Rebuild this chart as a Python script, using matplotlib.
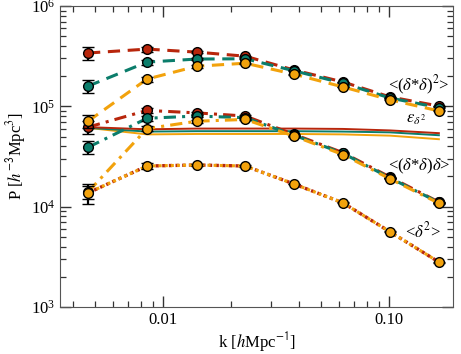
import matplotlib
matplotlib.use("Agg")
import matplotlib.pyplot as plt
from matplotlib.ticker import FixedLocator, FixedFormatter, LogLocator, NullFormatter

plt.rcParams["font.family"] = ["Liberation Serif", "DejaVu Serif"]
plt.rcParams["mathtext.fontset"] = "stix"

# k bins [h/Mpc]
k = [0.00466, 0.0085, 0.0141, 0.0231, 0.038, 0.0625, 0.101, 0.166]

# <(d*d)^2>
sq_red = [340000, 372000, 347000, 316000, 230000, 175000, 124000, 100700]
sq_teal = [159000, 276000, 296000, 298000, 226000, 170000, 121000, 97000]
sq_orange = [71000, 187000, 251000, 269000, 209000, 156000, 116000, 90000]

# <(d*d)d>
cr_red = [62000, 91000, 86000, 80000, 52500, 34500, 19700, 11100]
cr_teal = [39000, 76000, 80000, 77000, 51500, 34000, 19300, 11000]
cr_orange = [14000, 60000, 71000, 74000, 50500, 33000, 18900, 10800]

# <d^2>
d2 = [13700, 25400, 26000, 25400, 16800, 10900, 5600, 2800]

# epsilon_{d^2}
eps_red = [62000, 59000, 60000, 60000, 60000, 59500, 57500, 54000]
eps_teal = [61000, 56000, 56500, 56500, 56500, 56000, 55000, 51500]
eps_orange = [61000, 52500, 53000, 53000, 53000, 52500, 51000, 47000]

# relative errors per k bin
rel_err = [0.15, 0.06, 0.03, 0.015, 0.01, 0.01, 0.01, 0.01]
rel_err_d2 = [0.22, 0.06, 0.03, 0.015, 0.01, 0.01, 0.01, 0.01]

red = "#b8260c"
teal = "#0b7d6b"
orange = "#f2a20c"

fig = plt.figure(figsize=(4.61, 3.54), dpi=100)
ax = fig.add_axes([0.130, 0.133, 0.853, 0.850])


def series(vals, color, ls, errs, z):
    ax.plot(k, vals, color=color, linestyle=ls, linewidth=2.2, zorder=z)
    ax.errorbar(
        k, vals, yerr=[v * e for v, e in zip(vals, errs)],
        fmt="o", color=color, markersize=7, markeredgecolor="black",
        markeredgewidth=1.0, ecolor="black", elinewidth=1.6, capsize=4,
        capthick=1.6, zorder=z + 0.5,
    )


dash = (0, (4, 2.5))
dashdot = (0, (4, 2, 1, 2))
dot = (0, (1, 1))

for vals, color, z in [(eps_orange, orange, 2), (eps_teal, teal, 2.1), (eps_red, red, 2.2)]:
    ax.plot(k, vals, color=color, linewidth=1.4, zorder=z)

series(sq_red, red, dash, rel_err, 3)
series(sq_teal, teal, dash, rel_err, 4)
series(sq_orange, orange, dash, rel_err, 5)

series(cr_red, red, dashdot, rel_err, 3)
series(cr_teal, teal, dashdot, rel_err, 4)
series(cr_orange, orange, dashdot, rel_err, 5)

ax.plot(k, d2, color=red, linestyle=dot, linewidth=2.4, zorder=3)
series(d2, orange, (1, (1, 1)), rel_err_d2, 5)

ax.set_xscale("log")
ax.set_yscale("log")
ax.set_xlim(0.0035, 0.192)
ax.set_ylim(1e3, 1e6)

ax.xaxis.set_major_locator(FixedLocator([0.01, 0.1]))
ax.xaxis.set_major_formatter(FixedFormatter(["0.01", "0.10"]))
ax.xaxis.set_minor_locator(LogLocator(base=10, subs=range(2, 10)))
ax.xaxis.set_minor_formatter(NullFormatter())
ax.yaxis.set_minor_locator(LogLocator(base=10, subs=range(2, 10)))
ax.yaxis.set_minor_formatter(NullFormatter())

ax.tick_params(which="both", direction="in", top=True, right=True,
               labelsize=12, colors="#333333", labelcolor="black")
ax.tick_params(which="major", length=8, width=1.0)
ax.tick_params(which="minor", length=4, width=0.9)
for sp in ax.spines.values():
    sp.set_color("#555555")

ax.set_xlabel(r"k [$h$Mpc$^{\mathsf{-1}}$]", fontsize=12, labelpad=2)
ax.set_ylabel(r"P [$h^{\mathsf{-3}}$Mpc$^{3}$]", fontsize=12, labelpad=2)

ax.text(0.186, 1.62e5, r"<($\delta$*$\delta$)$^2$>", fontsize=12, ha="right", va="center")
ax.text(0.132, 7.5e4, r"$\epsilon_{\delta^2}$", fontsize=12, ha="center", va="center")
ax.text(0.186, 2.5e4, r"<($\delta$*$\delta$)$\delta$>", fontsize=12, ha="right", va="center")
ax.text(0.141, 5.6e3, r"<$\delta^2$>", fontsize=12, ha="center", va="center")

fig.savefig("out.png", dpi=100)
